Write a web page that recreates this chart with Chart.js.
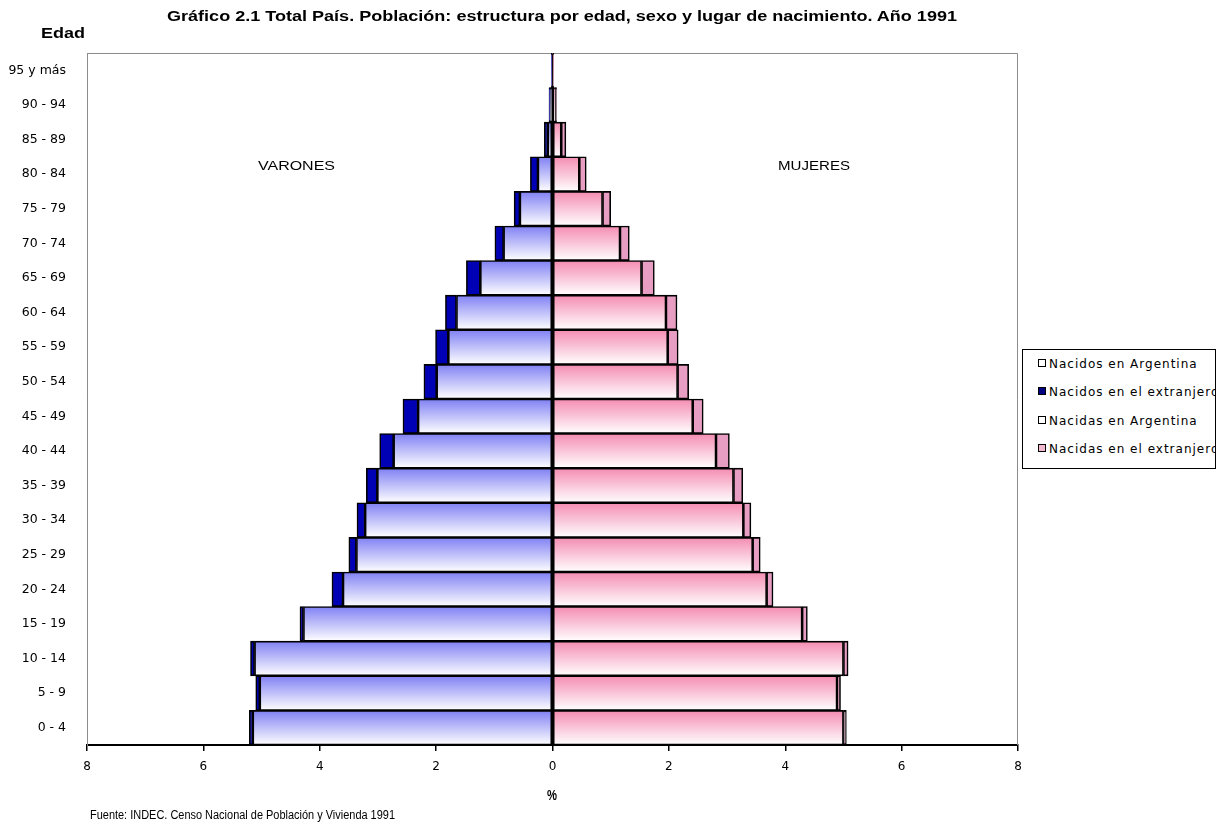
<!DOCTYPE html>
<html>
<head>
    <meta charset="utf-8">
    <title>Gráfico 2.1 Total País. Población 1991</title>
    <script src="https://cdn.jsdelivr.net/npm/chart.js"></script>
    <style>
        body { margin: 0; background: #fff; }
        .wrap { position: relative; width: 1226px; height: 824px; }
        #pyramid { position: absolute; left: 0; top: 0; }
        .txt {
            position: absolute;
            white-space: nowrap;
            color: #000;
            line-height: 1;
            transform-origin: left center;
            font-family: "Liberation Sans", Arial, sans-serif;
        }
        .bold { font-weight: bold; }
        .legend {
            position: absolute;
            left: 1022px; top: 349px;
            width: 192px; height: 118px;
            border: 1px solid #000;
            overflow: hidden;
            background: #fff;
            font-family: "DejaVu Sans", sans-serif;
            font-size: 12px;
            letter-spacing: 1px;
        }
        .legend .item { position: absolute; left: 15px; white-space: nowrap; line-height: 14px; }
        .legend .box {
            display: inline-block; width: 6px; height: 6px;
            border: 1px solid #000; margin-right: 3px; vertical-align: 1px;
        }
    </style>
</head>
<body>
<div class="wrap">
    <canvas id="pyramid" width="1226" height="824"></canvas>

    <div class="txt bold" data-l="167" data-w="790" data-y="16" style="font-size:14px">Gráfico 2.1 Total País. Población: estructura por edad, sexo y lugar de nacimiento. Año 1991</div>
    <div class="txt bold" data-l="41" data-w="44" data-y="33" style="font-size:14px">Edad</div>
    <div class="txt" data-l="258" data-w="77" data-y="165" style="font-size:13px">VARONES</div>
    <div class="txt" data-l="778" data-w="72" data-y="165" style="font-size:13px">MUJERES</div>
    <div class="txt bold" data-l="547" data-w="10" data-y="795" style="font-size:14px">%</div>
    <div class="txt" data-l="90" data-w="305" data-y="815" style="font-size:12px">Fuente: INDEC. Censo Nacional de Población y Vivienda 1991</div>

    <div class="legend">
        <div class="item" style="top:7px"><span class="box" style="background:#fff"></span>Nacidos en Argentina</div>
        <div class="item" style="top:35px"><span class="box" style="background:#000080"></span>Nacidos en el extranjero</div>
        <div class="item" style="top:64px"><span class="box" style="background:#fff"></span>Nacidas en Argentina</div>
        <div class="item" style="top:92px"><span class="box" style="background:#f2b8d0"></span>Nacidas en el extranjero</div>
    </div>
</div>
<script>
    // % of total population
    const ageGroups = ['0 - 4', '5 - 9', '10 - 14', '15 - 19', '20 - 24', '25 - 29', '30 - 34',
        '35 - 39', '40 - 44', '45 - 49', '50 - 54', '55 - 59', '60 - 64', '65 - 69',
        '70 - 74', '75 - 79', '80 - 84', '85 - 89', '90 - 94', '95 y más'];
    const varonesArgentina  = [5.15, 5.03, 5.12, 4.28, 3.60, 3.37, 3.22, 3.01, 2.73, 2.31, 1.99, 1.79, 1.65, 1.24, 0.84, 0.56, 0.25, 0.08, 0.04, 0.01];
    const varonesExtranjero = [0.06, 0.07, 0.07, 0.06, 0.19, 0.13, 0.14, 0.19, 0.24, 0.26, 0.22, 0.22, 0.19, 0.24, 0.15, 0.10, 0.13, 0.06, 0.02, 0.01];
    const mujeresArgentina  = [5.00, 4.89, 5.00, 4.29, 3.68, 3.44, 3.28, 3.11, 2.81, 2.41, 2.15, 1.98, 1.95, 1.53, 1.16, 0.86, 0.46, 0.15, 0.05, 0.01];
    const mujeresExtranjero = [0.05, 0.06, 0.08, 0.09, 0.11, 0.13, 0.13, 0.16, 0.23, 0.18, 0.19, 0.18, 0.19, 0.22, 0.16, 0.14, 0.12, 0.08, 0.02, 0.01];
    const xMin = -8, xMax = 8, xStep = 2;

    // vertical fade inside each bar, coloured on top, white at the bottom
    function fade(topColor) {
        return ctx => {
            const chart = ctx.chart;
            const y = chart.scales.y;
            if (!y || ctx.type !== 'data') return topColor;
            const yc = y.getPixelForValue(ctx.dataIndex);
            const half = (y.bottom - y.top) / ageGroups.length / 2;
            if (!Number.isFinite(yc) || !Number.isFinite(half) || half <= 0) return topColor;
            const g = chart.ctx.createLinearGradient(0, yc - half, 0, yc + half);
            g.addColorStop(0, topColor);
            g.addColorStop(1, '#ffffff');
            return g;
        };
    }

    const plotFrame = {
        id: 'plotFrame',
        beforeDatasetsDraw(chart) {
            const { ctx, chartArea: a } = chart;
            ctx.save();
            ctx.strokeStyle = '#8c8c8c';
            ctx.lineWidth = 1;
            ctx.beginPath();
            ctx.moveTo(a.left + 0.5, a.bottom);
            ctx.lineTo(a.left + 0.5, a.top + 0.5);
            ctx.lineTo(a.right - 0.5, a.top + 0.5);
            ctx.lineTo(a.right - 0.5, a.bottom);
            ctx.stroke();
            ctx.restore();
        }
    };

    const common = { borderColor: '#000', borderWidth: 1.6, borderSkipped: false, stack: 'p' };

    new Chart(document.getElementById('pyramid'), {
        type: 'bar',
        data: {
            labels: ageGroups,
            datasets: [
                { ...common, label: 'Nacidos en Argentina', data: varonesArgentina.map(v => -v), backgroundColor: fade('#8080f4') },
                { ...common, label: 'Nacidos en el extranjero', data: varonesExtranjero.map(v => -v), backgroundColor: '#0000b4' },
                { ...common, label: 'Nacidas en Argentina', data: mujeresArgentina, backgroundColor: fade('#f48cb2') },
                { ...common, label: 'Nacidas en el extranjero', data: mujeresExtranjero, backgroundColor: '#e79ec2' }
            ]
        },
        options: {
            indexAxis: 'y',
            responsive: false,
            animation: false,
            events: [],
            categoryPercentage: 1,
            barPercentage: 1,
            layout: { padding: { left: 0, right: 208, top: 53, bottom: 0 } },
            plugins: { legend: { display: false }, tooltip: { enabled: false } },
            scales: {
                x: {
                    stacked: true,
                    min: xMin, max: xMax,
                    afterFit: s => { s.height = 79; },
                    ticks: {
                        stepSize: xStep,
                        padding: 9,
                        color: '#000',
                        font: { family: 'DejaVu Sans', size: 12 },
                        callback: v => Math.abs(v)
                    },
                    grid: {
                        color: c => (c.tick && c.tick.value === 0) ? '#000' : 'rgba(0,0,0,0)',
                        tickColor: '#000',
                        tickLength: 6,
                        lineWidth: 1.5
                    },
                    border: { display: true, color: '#000', width: 2 }
                },
                y: {
                    stacked: true,
                    reverse: true,
                    afterFit: s => { s.width = 87; },
                    ticks: {
                        padding: 13,
                        color: '#000',
                        font: { family: 'DejaVu Sans', size: 12.5 }
                    },
                    grid: { display: false },
                    border: { display: true, color: '#8c8c8c', width: 1 }
                }
            }
        },
        plugins: [plotFrame]
    });

    // stretch the loose labels to the widths they take in the picture
    document.querySelectorAll('.txt').forEach(el => {
        el.style.left = el.dataset.l + 'px';
        el.style.top = el.dataset.y + 'px';
        const w = el.getBoundingClientRect().width;
        el.style.transform = `translateY(-50%) scaleX(${el.dataset.w / w})`;
    });
</script>
</body>
</html>
